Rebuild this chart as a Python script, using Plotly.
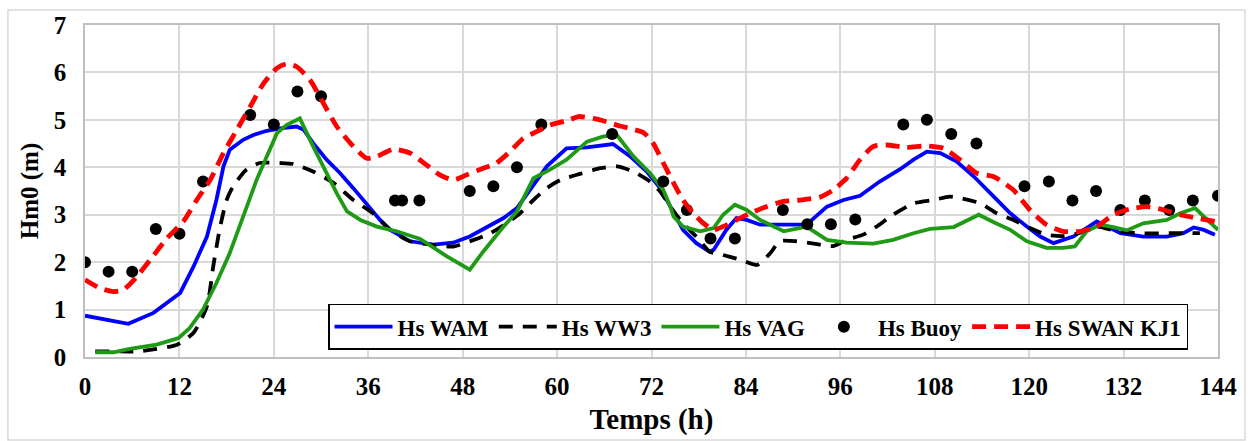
import plotly.graph_objects as go

# Significant wave height time series (hours, metres)
wam_t = [0, 2.8, 5.5, 8.7, 12.1, 13.8, 15.5, 16.7, 17.6, 18.4, 20.1, 21.4, 23.1, 24.8, 26.9, 27.8,
         29.0, 30.7, 32.4, 34.1, 35.8, 37.5, 38.8, 41.3, 44.3, 46.8, 48.9, 51.1, 53.2, 54.9, 56.6,
         58.7, 61.2, 63.8, 67.1, 69.3, 71.4, 73.1, 74.4, 76.0, 77.7, 79.4, 79.9, 81.5, 82.8, 84.1,
         85.8, 89.2, 91.7, 94.3, 96.4, 98.5, 101.0, 103.6, 105.3, 107.0, 108.7, 110.8, 113.0,
         115.5, 117.6, 119.7, 121.4, 123.1, 125.6, 128.6, 131.6, 134.5, 137.5, 139.6, 140.9,
         142.2, 143.6]
wam_hs = [0.87, 0.79, 0.70, 0.93, 1.35, 1.91, 2.54, 3.31, 4.02, 4.37, 4.58, 4.68, 4.77, 4.82, 4.86,
          4.79, 4.51, 4.16, 3.88, 3.56, 3.21, 2.89, 2.68, 2.44, 2.37, 2.41, 2.54, 2.75, 2.93, 3.14,
          3.52, 4.02, 4.40, 4.42, 4.49, 4.23, 3.91, 3.56, 3.17, 2.68, 2.40, 2.22, 2.26, 2.68, 2.93,
          2.89, 2.79, 2.79, 2.79, 3.17, 3.31, 3.40, 3.70, 3.96, 4.16, 4.33, 4.30, 4.12, 3.80, 3.38,
          3.03, 2.75, 2.54, 2.40, 2.54, 2.86, 2.61, 2.54, 2.54, 2.61, 2.73, 2.68, 2.58]

ww3_t = [1.3, 3.6, 7.0, 11.7, 13.8, 15.5, 16.3, 17.1, 18.0, 18.8, 20.5, 22.2, 24.8, 26.5, 29.0,
         31.6, 34.1, 36.6, 38.8, 41.3, 43.9, 46.8, 49.4, 51.5, 53.6, 55.3, 57.0, 58.7, 60.4, 62.9,
         65.5, 67.6, 69.7, 71.8, 73.1, 74.4, 76.0, 77.7, 79.4, 81.1, 83.3, 85.4, 87.1, 88.3, 90.4,
         92.2, 95.1, 96.8, 98.9, 100.6, 102.7, 105.3, 107.8, 109.9, 111.2, 113.8, 115.9, 118.0,
         120.1, 122.2, 124.3, 126.5, 128.6, 131.0, 134.1, 138.3, 141.7]
ww3_hs = [0.12, 0.12, 0.12, 0.26, 0.51, 1.07, 1.91, 2.68, 3.31, 3.59, 3.95, 4.09, 4.09, 4.07, 3.91,
          3.67, 3.31, 3.03, 2.68, 2.44, 2.37, 2.33, 2.47, 2.61, 2.82, 3.03, 3.31, 3.56, 3.73, 3.86,
          3.98, 4.02, 3.91, 3.70, 3.49, 3.17, 2.82, 2.54, 2.22, 2.15, 2.05, 1.94, 2.19, 2.44, 2.44,
          2.40, 2.34, 2.47, 2.58, 2.75, 3.00, 3.24, 3.31, 3.38, 3.35, 3.24, 3.03, 2.89, 2.72, 2.58,
          2.55, 2.62, 2.75, 2.66, 2.61, 2.61, 2.61]

vag_t = [1.3, 3.6, 5.7, 9.1, 11.9, 13.3, 15.0, 16.7, 18.4, 20.1, 21.8, 23.1, 24.4, 25.6, 27.3, 29.0,
         30.7, 32.0, 33.3, 35.0, 37.1, 39.6, 42.6, 46.0, 48.9, 50.6, 53.2, 54.9, 57.0, 59.1, 61.2,
         63.8, 65.9, 67.6, 69.7, 71.8, 73.5, 74.4, 74.8, 76.0, 78.2, 79.9, 81.1, 82.6, 84.1, 85.8,
         88.8, 91.7, 94.3, 96.8, 100.2, 102.7, 105.3, 107.4, 110.4, 112.1, 113.6, 115.5, 117.6,
         119.7, 122.2, 124.3, 125.8, 127.3, 129.0, 130.7, 132.4, 134.5, 137.5, 139.2, 141.1,
         142.2, 144.0]
vag_hs = [0.10, 0.10, 0.17, 0.26, 0.40, 0.61, 1.00, 1.56, 2.19, 2.96, 3.73, 4.23, 4.72, 4.89, 5.03,
          4.44, 3.88, 3.45, 3.07, 2.89, 2.75, 2.65, 2.49, 2.12, 1.84, 2.22, 2.75, 3.07, 3.77, 3.95,
          4.16, 4.54, 4.65, 4.68, 4.23, 3.88, 3.52, 3.17, 2.96, 2.75, 2.65, 2.72, 3.00, 3.21, 3.10,
          2.89, 2.65, 2.75, 2.47, 2.41, 2.39, 2.47, 2.61, 2.70, 2.74, 2.89, 3.00, 2.84, 2.68, 2.44,
          2.30, 2.30, 2.33, 2.65, 2.79, 2.74, 2.67, 2.82, 2.89, 3.03, 3.14, 2.96, 2.68]

buoy_t = [0, 3, 6, 9, 12, 15, 21, 24, 27, 30, 39.4, 40.3, 42.5, 48.9, 51.9, 54.9, 58, 67, 73.5,
          76.5, 79.5, 82.6, 88.7, 91.8, 94.8, 97.9, 104, 107, 110.1, 113.3, 119.4, 122.5, 125.5,
          128.5, 131.6, 134.7, 137.8, 140.8, 144]
buoy_hs = [2.0, 1.8, 1.8, 2.7, 2.6, 3.7, 5.1, 4.9, 5.6, 5.5, 3.3, 3.3, 3.3, 3.5, 3.6, 4.0, 4.9,
           4.7, 3.7, 3.1, 2.5, 2.5, 3.1, 2.8, 2.8, 2.9, 4.9, 5.0, 4.7, 4.5, 3.6, 3.7, 3.3, 3.5,
           3.1, 3.3, 3.1, 3.3, 3.4]

swan_t = [0.0, 1.9, 3.6, 4.9, 6.4, 8.3, 10.4, 12.5, 14.2, 15.9, 17.6, 19.3, 21.0, 22.7, 24.4, 25.6,
          26.9, 28.6, 30.3, 32.0, 34.1, 35.8, 37.1, 39.2, 41.3, 43.4, 45.1, 46.8, 48.5, 50.6, 52.3,
          54.0, 55.7, 57.4, 59.1, 61.6, 62.7, 64.6, 66.3, 68.0, 69.7, 71.0, 72.2, 73.5, 74.8, 76.0,
          77.3, 78.6, 79.9, 81.1, 82.8, 84.5, 86.6, 88.8, 90.9, 93.4, 95.1, 96.8, 98.5, 100.2,
          101.9, 104.4, 107.0, 109.1, 111.2, 113.3, 115.5, 118.0, 120.1, 122.2, 124.3, 126.5,
          128.6, 130.7, 132.8, 134.9, 137.1, 139.2, 141.3, 143.6]
swan_hs = [1.63, 1.45, 1.38, 1.42, 1.66, 2.05, 2.50, 2.86, 3.31, 3.73, 4.30, 4.79, 5.28, 5.77, 6.09,
           6.18, 6.12, 5.84, 5.35, 4.86, 4.44, 4.19, 4.23, 4.38, 4.30, 4.05, 3.84, 3.73, 3.84, 3.98,
           4.09, 4.33, 4.61, 4.75, 4.89, 5.00, 5.07, 5.03, 4.96, 4.87, 4.80, 4.73, 4.51, 4.09, 3.67,
           3.31, 3.03, 2.82, 2.68, 2.75, 2.89, 3.03, 3.17, 3.28, 3.31, 3.37, 3.52, 3.77, 4.16, 4.44,
           4.47, 4.42, 4.45, 4.40, 4.16, 3.88, 3.80, 3.52, 3.10, 2.79, 2.65, 2.65, 2.75, 3.00, 3.12,
           3.17, 3.10, 3.00, 2.93, 2.86]

x_ticks = list(range(0, 145, 12))
y_ticks = list(range(0, 8))

FONT = "Liberation Serif"
GRID = "#d9d9d9"

fig = go.Figure()
fig.add_trace(go.Scatter(x=wam_t, y=wam_hs, mode="lines", name="Hs WAM",
                         line=dict(color="#0000ff", width=3.8)))
fig.add_trace(go.Scatter(x=ww3_t, y=ww3_hs, mode="lines", name="Hs WW3",
                         line=dict(color="#000000", width=3.8, dash="14px,10px",
                                   shape="spline", smoothing=0.6)))
fig.add_trace(go.Scatter(x=vag_t, y=vag_hs, mode="lines", name="Hs VAG",
                         line=dict(color="#1f9a14", width=3.8)))
fig.add_trace(go.Scatter(x=buoy_t, y=buoy_hs, mode="markers", name="Hs Buoy",
                         marker=dict(color="#000000", size=12)))
fig.add_trace(go.Scatter(x=swan_t, y=swan_hs, mode="lines", name="Hs SWAN KJ1",
                         line=dict(color="#ff0000", width=4.8, dash="14px,8px",
                                   shape="spline", smoothing=0.6)))

fig.update_layout(
    width=1248, height=441,
    margin=dict(l=85, r=30, t=25, b=84),
    paper_bgcolor="white", plot_bgcolor="white",
    font=dict(family=FONT, color="black"),
    showlegend=True,
    legend=dict(orientation="h", x=0.2145, xanchor="left", y=0.022, yanchor="bottom",
                bgcolor="white", bordercolor="black", borderwidth=1.5,
                font=dict(family=FONT, size=23, weight="bold"),
                itemwidth=58, tracegroupgap=0),
    xaxis=dict(range=[0, 144], tickvals=x_ticks, ticks="", showgrid=True,
               gridcolor=GRID, gridwidth=1.5, zeroline=False,
               showline=True, linecolor="#bfbfbf", linewidth=1.5, mirror=True,
               tickfont=dict(family=FONT, size=25, weight="bold"),
               ticklabelstandoff=6,
               title=dict(text="Temps (h)", standoff=10,
                          font=dict(family=FONT, size=29, weight="bold"))),
    yaxis=dict(range=[0, 7], tickvals=y_ticks, ticks="", showgrid=True,
               gridcolor=GRID, gridwidth=1.5, zeroline=False,
               showline=True, linecolor="#bfbfbf", linewidth=1.5, mirror=True,
               tickfont=dict(family=FONT, size=25, weight="bold"),
               ticklabelstandoff=12,
               title=dict(text="Hm0 (m)", standoff=8,
                          font=dict(family=FONT, size=25, weight="bold"))),
)

# Light frame around the whole chart
fig.add_shape(type="rect", xref="paper", yref="paper",
              x0=-0.068, x1=1.0238, y0=-0.25, y1=1.045,
              line=dict(color="#d9d9d9", width=1.5), fillcolor="rgba(0,0,0,0)", layer="below")

fig.write_html("out.html")
